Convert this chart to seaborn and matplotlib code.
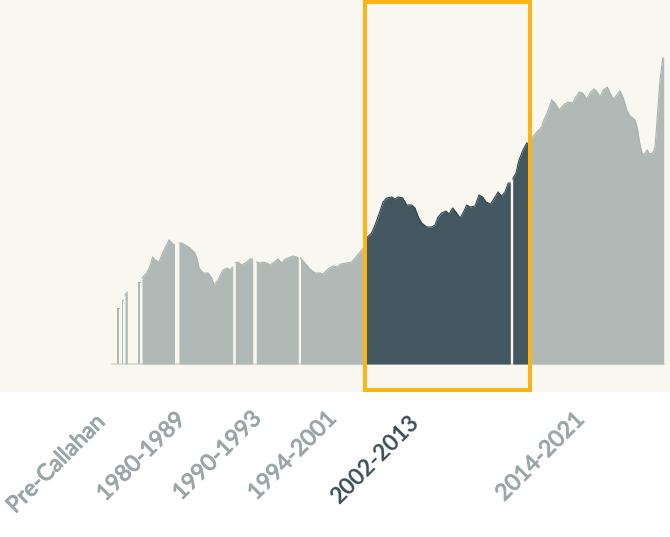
import numpy as np
import pandas as pd
import matplotlib
matplotlib.use("Agg")
import matplotlib.pyplot as plt
import matplotlib.patches as mpatches
import matplotlib.patheffects as pe
import seaborn as sns

# ---------------- data ----------------
# observation position (ordinal) and value; NaN marks breaks between data runs
OBS = [117, 118.5, 120,
       122, 123.3, 124,
       125, 127.3, 133,
       138, 139.7, 141,
       142, 146.7, 150, 152.7, 155, 159, 161.7, 165, 169, 171.7, 174.5, 177,
       179, 181.7, 185, 190, 195, 197.3, 199, 203, 208, 211.7, 214, 218, 223, 226.7, 230, 232.7, 234,
       235.3, 238, 241.7, 246.7, 250, 252.7, 254.5,
       256.3, 260, 263, 266.7, 270, 273, 278, 281.7, 285, 288, 292.7, 296.7, 298.3, 299.5,
       300.5, 305, 310, 315, 320, 323, 328, 333, 337, 340.7, 346.7, 351.7, 356.7, 361.7, 365, 366.5,
       366.5, 371.7, 375, 378, 383, 386.7, 391.7, 395, 398, 402.7, 406.7, 411.7, 415, 418.3, 421.7,
       426.7, 431.7, 435, 438, 441.7, 446, 449, 452.7, 456.7, 460, 463, 466.7, 470, 475, 479, 482.7,
       486, 490.7, 495, 498, 501.7, 505, 508.3, 510.3, 511.5,
       512.7, 516, 519, 523, 526.7, 529.5,
       529.5, 532.7, 536.7, 541.7, 543, 546.7, 551.7, 555, 559.3, 563.3, 566.7, 568.3, 572.7, 576,
       579.3, 582.7, 586.7, 590.7, 594, 597.3, 600, 603.3, 607.3, 610, 613.3, 616.7, 620, 623.3,
       626.7, 630, 635, 637.3, 640, 642.7, 645, 647.3, 649.3, 652.7, 655, 657.3, 660, 662.7, 663.7]

NAN = np.nan
VALUE = [56, 56, NAN,
         64, 64, NAN,
         69, 72, NAN,
         82, 82, NAN,
         86, 91, 98, 107, 104, 102, 109, 116, 124, 121, 119, NAN,
         121, 121, 119, 116, 111, 104, 96, 91, 91, 86, 79, 84, 94, 96, 94, 97, NAN,
         101, 102, 99, 102, 105, 105, NAN,
         102, 101, 102, 101, 99, 101, 105, 101, 105, 106, 108, 107, 106, NAN,
         106, 101, 95, 91, 91, 90, 95, 98, 97, 100, 101, 102, 108, 114, 118, 121,
         126, 131, 139, 147, 162, 166, 167, 165, 167, 166, 159, 159, 156, 147, 141,
         137, 137, 139, 147, 151, 153, 150, 156, 151, 146, 151, 159, 157, 158, 169, 167,
         162, 160, 167, 172, 168, 172, 181, 181, NAN,
         185, 191, 204, 214, 221, 220,
         222, 227, 232, 237, 242, 250, 264, 261, 254, 259, 261, 262, 261, 267,
         272, 271, 265, 272, 275, 272, 267, 274, 277, 271, 265, 269, 273, 266,
         254, 248, 244, 236, 219, 209, 211, 214, 210, 211, 217, 247, 284, 306, 306]

ERA_LABELS = ["Pre-Callahan", "1980-1989", "1990-1993", "1994-2001", "2002-2013", "2014-2021"]
HIGHLIGHT_ERA = "2002-2013"
HIGHLIGHT_RANGE = (366.5, 529.5)

# ---------------- styling ----------------
BG = "#f8f7f0"
GRAY = "#b1b9b7"
GRAY_EDGE = "#aab2b1"
DARK = "#435761"
DARK_EDGE = "#33444c"
ORANGE = "#fdb515"
LABEL_GRAY = "#9ca6a9"
LABEL_DARK = "#3c4e58"

sns.set_theme(style="white")
plt.rcParams["font.family"] = ["Lato", "DejaVu Sans"]

# build segments: break at NaN or repeated observation
rows = []
seg = 0
prev = None
for o, v in zip(OBS, VALUE):
    if np.isnan(v):
        seg += 1
        prev = None
        continue
    if prev is not None and o == prev:
        seg += 1
    rows.append((o, v, seg))
    prev = o
df = pd.DataFrame(rows, columns=["obs", "value", "seg"])
seg_mid = df.groupby("seg")["obs"].transform("mean")
df["hl"] = (seg_mid >= HIGHLIGHT_RANGE[0]) & (seg_mid <= HIGHLIGHT_RANGE[1])

W, H = 670, 537
fig = plt.figure(figsize=(W / 100, H / 100), dpi=100)
fig.patch.set_facecolor("white")
ax = fig.add_axes([0, 1 - 392 / H, 1, 392 / H])
ax.set_facecolor(BG)

# baseline
ax.plot([112, 664], [0, 0], color="#dddcd5", lw=1.5, zorder=1)

for s, g in df.groupby("seg"):
    hl = bool(g["hl"].iloc[0])
    ax.fill_between(g["obs"], 0, g["value"], color=DARK if hl else GRAY,
                    lw=0, zorder=2)

sns.lineplot(data=df, x="obs", y="value", units="seg", estimator=None,
             hue="hl", palette={True: DARK_EDGE, False: GRAY_EDGE},
             lw=0.8, legend=False, ax=ax, zorder=3)

ax.set_xlim(0, 670)
ax.set_ylim(-28, 364)
ax.set_xticks([])
ax.set_yticks([])
ax.set_xlabel("")
ax.set_ylabel("")
sns.despine(ax=ax, left=True, bottom=True)

# highlight box
rect = mpatches.Rectangle((365, -26), 165, 388, fill=False, ec=ORANGE,
                          lw=2.9, clip_on=False, zorder=5)
ax.add_patch(rect)

# era labels
label_pos = [(56, 464), (141, 457), (217, 456), (292, 456), (375, 460), (540, 457)]
for lab, (x, y) in zip(ERA_LABELS, label_pos):
    hl = lab == HIGHLIGHT_ERA
    col = LABEL_DARK if hl else LABEL_GRAY
    t = fig.text(x / W, 1 - y / H, lab, rotation=45, ha="center", va="center",
                 fontsize=16.5, color=col,
                 fontweight="bold" if hl else "normal")
    if not hl:
        t.set_path_effects([pe.withStroke(linewidth=0.7, foreground=col)])

fig.savefig("out.png", dpi=100, facecolor="white")
